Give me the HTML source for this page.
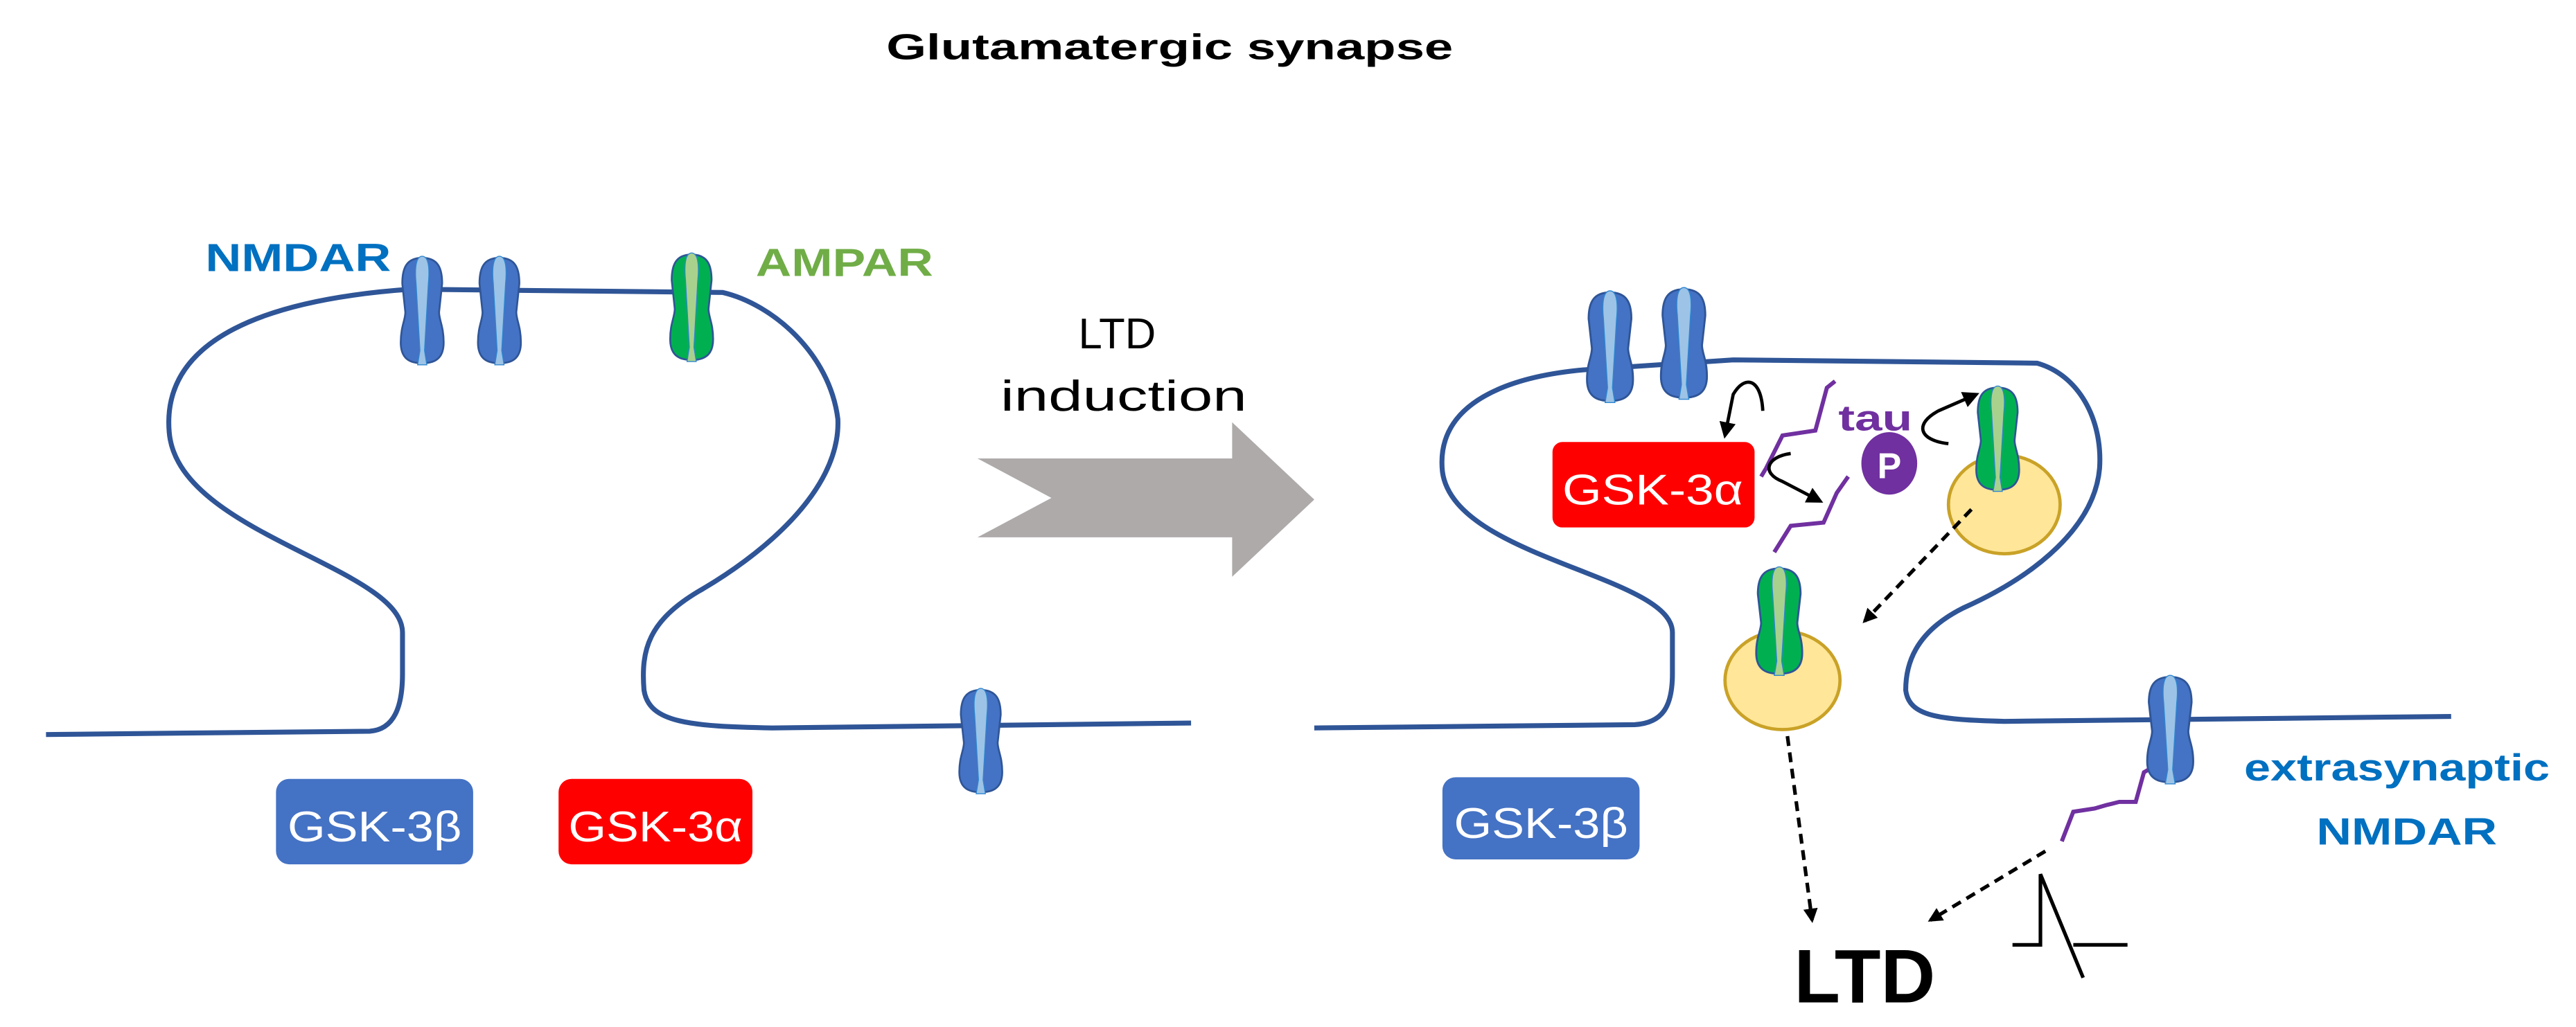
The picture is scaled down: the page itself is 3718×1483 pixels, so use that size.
<!DOCTYPE html>
<html><head><meta charset="utf-8"><style>
html,body{margin:0;padding:0;background:#fff;}
svg{display:block;}
text{font-family:"Liberation Sans",sans-serif;font-weight:bold;}
</style></head><body>
<svg width="3718" height="1483" viewBox="0 0 1568 625" preserveAspectRatio="none" xmlns="http://www.w3.org/2000/svg">
<defs>
<symbol id="rb" viewBox="0 0 30 70" preserveAspectRatio="none">
<path d="M15,2 C5,2 2,8 2,18 L4,36 C4,41 1,45 1,55 C1,66 8,68 15,68 C22,68 29,66 29,55 C29,45 26,41 26,36 L28,18 C28,8 25,2 15,2Z" fill="#4472c4" stroke="#2f5597" stroke-width="1.2"/>
<path d="M15,1 C11,1 10,8 11,18 L13.5,60 L12,69 L18,69 L16.5,60 L19,18 C20,8 19,1 15,1Z" fill="#9dc3e6" stroke="#2e86d0" stroke-width="0.6"/>
</symbol>
<symbol id="rg" viewBox="0 0 30 70" preserveAspectRatio="none">
<path d="M15,2 C5,2 2,8 2,18 L4,36 C4,41 1,45 1,55 C1,66 8,68 15,68 C22,68 29,66 29,55 C29,45 26,41 26,36 L28,18 C28,8 25,2 15,2Z" fill="#00b050" stroke="#2f5597" stroke-width="1.2"/>
<path d="M15,1 C11,1 10,8 11,18 L13.5,60 L12,69 L18,69 L16.5,60 L19,18 C20,8 19,1 15,1Z" fill="#a9d18e" stroke="#2e86d0" stroke-width="0.6"/>
</symbol>
<marker id="ah" viewBox="0 0 10 10" refX="8" refY="5" markerWidth="4" markerHeight="4" orient="auto" markerUnits="strokeWidth">
<path d="M0,0 L10,5 L0,10Z" fill="#000"/>
</marker>
<marker id="ah2" viewBox="0 0 10 10" refX="8" refY="5" markerWidth="5" markerHeight="5" orient="auto" markerUnits="strokeWidth">
<path d="M0,0 L10,5 L0,10Z" fill="#000"/>
</marker>
</defs>

<text x="712" y="36" font-size="22" text-anchor="middle" textLength="345" lengthAdjust="spacingAndGlyphs">Glutamatergic synapse</text>

<path d="M28,447 L225,445 C240,444 245,430 245,410 L245,385 C245,345 108,325 103,263 C98,205 165,182 250,176 L440,178 C470,185 505,215 510,255 C512,300 460,340 425,360 C395,378 390,395 392,420 C395,440 420,442 470,443 L725,440" fill="none" stroke="#2f5597" stroke-width="3"/>
<use href="#rb" x="243" y="155" width="28" height="68"/>
<use href="#rb" x="290" y="155" width="28" height="68"/>
<use href="#rg" x="407" y="153" width="28" height="68"/>
<use href="#rb" x="583" y="418" width="28" height="66"/>
<text x="125" y="165" font-size="24" fill="#0070c0" textLength="113" lengthAdjust="spacingAndGlyphs">NMDAR</text>
<text x="460" y="168" font-size="24" fill="#70ad47" textLength="108" lengthAdjust="spacingAndGlyphs">AMPAR</text>

<rect x="168" y="474" width="120" height="52" rx="8" fill="#4472c4"/>
<text x="228" y="512" font-size="26" fill="#fff" text-anchor="middle" textLength="106" lengthAdjust="spacingAndGlyphs" style="font-weight:normal">GSK-3β</text>
<rect x="340" y="474" width="118" height="52" rx="8" fill="#ff0000"/>
<text x="399" y="512" font-size="26" fill="#fff" text-anchor="middle" textLength="106" lengthAdjust="spacingAndGlyphs" style="font-weight:normal">GSK-3α</text>

<text x="680" y="212" font-size="26" text-anchor="middle" style="font-weight:normal">LTD</text>
<text x="684" y="250" font-size="26" text-anchor="middle" textLength="150" lengthAdjust="spacingAndGlyphs" style="font-weight:normal">induction</text>
<path d="M595,279 L750,279 L750,257 L800,304 L750,351 L750,327 L595,327 L640,303Z" fill="#aeaaaa"/>

<path d="M800,443 L995,441 C1012,440 1018,430 1018,410 L1018,385 C1018,350 885,340 878,287 C873,240 930,228 965,225 L1055,219 L1240,221 C1265,228 1280,255 1278,285 C1275,320 1240,350 1195,370 C1165,385 1160,405 1160,420 C1162,436 1180,438 1220,439 L1492,436" fill="none" stroke="#2f5597" stroke-width="3"/>
<use href="#rb" x="965" y="176" width="30" height="70"/>
<use href="#rb" x="1010" y="174" width="30" height="70"/>

<path d="M1117,232 L1112,236 L1105,262 L1085,265 L1075,285 L1072,290" fill="none" stroke="#7030a0" stroke-width="2.5"/>
<path d="M1125,290 L1118,300 L1110,318 L1090,320 L1080,336" fill="none" stroke="#7030a0" stroke-width="2.5"/>

<rect x="945" y="269" width="123" height="52" rx="6" fill="#ff0000"/>
<text x="1006" y="307" font-size="26" fill="#fff" text-anchor="middle" textLength="110" lengthAdjust="spacingAndGlyphs" style="font-weight:normal">GSK-3α</text>

<text x="1119" y="262" font-size="22" fill="#7030a0" textLength="45" lengthAdjust="spacingAndGlyphs">tau</text>
<ellipse cx="1150" cy="282" rx="17" ry="19" fill="#7030a0"/>
<text x="1150" y="291" font-size="22" fill="#fff" text-anchor="middle">P</text>

<path d="M1073,250 C1072,230 1062,228 1055,240 L1050,265" fill="none" stroke="#000" stroke-width="2" marker-end="url(#ah2)"/>
<path d="M1090,276 C1075,278 1072,288 1085,293 L1108,305" fill="none" stroke="#000" stroke-width="2" marker-end="url(#ah2)"/>
<path d="M1186,270 C1168,268 1165,258 1180,250 L1203,240" fill="none" stroke="#000" stroke-width="2" marker-end="url(#ah2)"/>

<ellipse cx="1220" cy="307" rx="34" ry="30" fill="#ffe699" stroke="#c9a227" stroke-width="2"/>
<use href="#rg" x="1202" y="234" width="28" height="66"/>
<ellipse cx="1085" cy="414" rx="35" ry="30" fill="#ffe699" stroke="#c9a227" stroke-width="2"/>
<use href="#rg" x="1068" y="344" width="30" height="68"/>

<path d="M1200,310 L1135,378" fill="none" stroke="#000" stroke-width="2.2" stroke-dasharray="6,4" marker-end="url(#ah)"/>
<path d="M1088,448 L1103,560" fill="none" stroke="#000" stroke-width="2.2" stroke-dasharray="6,4" marker-end="url(#ah)"/>
<path d="M1245,518 L1175,560" fill="none" stroke="#000" stroke-width="2.2" stroke-dasharray="6,4" marker-end="url(#ah)"/>

<path d="M1312,466 L1305,470 L1300,488 L1290,488 L1282,490 L1275,492 L1262,494 L1255,512" fill="none" stroke="#7030a0" stroke-width="2.5"/>
<use href="#rb" x="1306" y="410" width="30" height="68"/>
<text x="1366" y="475" font-size="23" fill="#0070c0" textLength="186" lengthAdjust="spacingAndGlyphs">extrasynaptic</text>
<text x="1410" y="514" font-size="23" fill="#0070c0" textLength="110" lengthAdjust="spacingAndGlyphs">NMDAR</text>

<rect x="878" y="473" width="120" height="50" rx="8" fill="#4472c4"/>
<text x="938" y="510" font-size="26" fill="#fff" text-anchor="middle" textLength="106" lengthAdjust="spacingAndGlyphs" style="font-weight:normal">GSK-3β</text>

<path d="M1225,575 L1242,575 L1242,532 L1268,595 M1262,575 L1295,575" fill="none" stroke="#000" stroke-width="2.2"/>

<text x="1092" y="610" font-size="46" textLength="86" lengthAdjust="spacingAndGlyphs">LTD</text>
</svg>
</body></html>
